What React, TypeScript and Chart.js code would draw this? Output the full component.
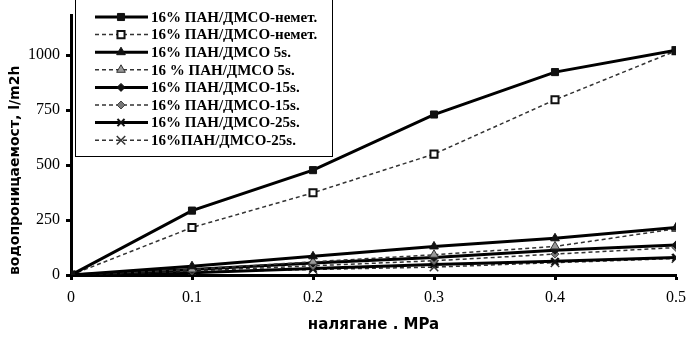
import React, { useEffect, useRef } from "react";
import { Chart, registerables } from "chart.js";
import { drawPoint } from "chart.js/helpers";

Chart.register(...registerables);

const pressures = [0, 0.1, 0.2, 0.3, 0.4, 0.5];
const xTicks = [0, 0.1, 0.2, 0.3, 0.4, 0.5];
const yTicks = [0, 250, 500, 750, 1000];

const labels = [
  "16% ПАН/ДМСО-немет.",
  "16% ПАН/ДМСО-немет.",
  "16% ПАН/ДМСО 5s.",
  "16 % ПАН/ДМСО 5s.",
  "16% ПАН/ДМСО-15s.",
  "16% ПАН/ДМСО-15s.",
  "16% ПАН/ДМСО-25s.",
  "16%ПАН/ДМСО-25s.",
];

const s1 = [0, 293, 477, 730, 923, 1022];
const s2 = [0, 216, 374, 550, 797, 1020];
const s3 = [0, 40, 85, 130, 167, 216];
const s4 = [0, 25, 60, 92, 130, 210];
const s5 = [0, 25, 55, 80, 113, 137];
const s6 = [0, 18, 42, 65, 95, 125];
const s7 = [0, 10, 30, 48, 62, 80];
const s8 = [0, 15, 25, 36, 56, 75];

const seriesValues = [s1, s2, s3, s4, s5, s6, s7, s8];

type Style = {
  dashed: boolean;
  pointStyle: string;
  radius: number;
  fill: string;
  border: string;
  pointBorderWidth: number;
};

const styles: Style[] = [
  { dashed: false, pointStyle: "rect", radius: 5, fill: "#111", border: "#111", pointBorderWidth: 1 },
  { dashed: true, pointStyle: "rect", radius: 5, fill: "#fff", border: "#111", pointBorderWidth: 2 },
  { dashed: false, pointStyle: "triangle", radius: 5, fill: "#111", border: "#111", pointBorderWidth: 1 },
  { dashed: true, pointStyle: "triangle", radius: 5, fill: "#999", border: "#333", pointBorderWidth: 1 },
  { dashed: false, pointStyle: "rectRot", radius: 4, fill: "#111", border: "#111", pointBorderWidth: 1 },
  { dashed: true, pointStyle: "rectRot", radius: 4, fill: "#777", border: "#444", pointBorderWidth: 1 },
  { dashed: false, pointStyle: "crossRot", radius: 5, fill: "#111", border: "#111", pointBorderWidth: 2 },
  { dashed: true, pointStyle: "crossRot", radius: 6, fill: "#333", border: "#333", pointBorderWidth: 1.5 },
];

const legendPlugin = {
  id: "boxLegend",
  afterDraw(chart: any) {
    const ctx = chart.ctx as CanvasRenderingContext2D;
    const left = 75;
    const right = 332;
    const top = -1;
    const bottom = 156;
    ctx.save();
    ctx.fillStyle = "#fff";
    ctx.fillRect(left, top, right - left, bottom - top);
    ctx.strokeStyle = "#000";
    ctx.lineWidth = 1;
    ctx.strokeRect(left + 0.5, top + 0.5, right - left, bottom - top);
    chart.data.datasets.forEach((ds: any, i: number) => {
      const st = styles[i];
      const y = 17 + i * 17.6;
      ctx.save();
      ctx.strokeStyle = ds.borderColor;
      ctx.lineWidth = ds.borderWidth;
      ctx.setLineDash(ds.borderDash || []);
      ctx.beginPath();
      ctx.moveTo(95, y);
      ctx.lineTo(148, y);
      ctx.stroke();
      ctx.restore();
      ctx.save();
      ctx.fillStyle = st.fill;
      ctx.strokeStyle = st.border;
      ctx.lineWidth = st.pointBorderWidth;
      drawPoint(ctx, { pointStyle: st.pointStyle, radius: st.radius, rotation: 0, borderWidth: st.pointBorderWidth } as any, 121, y);
      ctx.restore();
      ctx.fillStyle = "#000";
      ctx.font = "bold 15px 'Liberation Serif'";
      ctx.textBaseline = "middle";
      ctx.textAlign = "left";
      ctx.fillText(ds.label, 151, y + 1);
    });
    ctx.restore();
  },
};

export default function App() {
  const ref = useRef<HTMLCanvasElement | null>(null);
  useEffect(() => {
    document.body.style.margin = "0";
    if (!ref.current) return;
    const datasets = seriesValues.map((vals, i) => {
      const st = styles[i];
      return {
        label: labels[i],
        data: vals.map((v, j) => ({ x: pressures[j], y: v })),
        borderColor: st.dashed ? "#333" : "#000",
        borderWidth: st.dashed ? 1.5 : 3,
        borderDash: st.dashed ? [4, 3] : [],
        pointStyle: st.pointStyle,
        pointRadius: st.radius,
        pointBackgroundColor: st.fill,
        pointBorderColor: st.border,
        pointBorderWidth: st.pointBorderWidth,
        tension: 0,
        fill: false,
      };
    });
    const chart = new Chart(ref.current, {
      type: "line",
      data: { datasets },
      plugins: [legendPlugin],
      options: {
        animation: false,
        responsive: false,
        devicePixelRatio: 1,
        layout: { padding: { top: 12, right: 0, left: 0, bottom: 0 } },
        plugins: { legend: { display: false }, tooltip: { enabled: false } },
        scales: {
          x: {
            type: "linear",
            min: 0,
            max: 0.5,
            afterBuildTicks: (s: any) => {
              s.ticks = xTicks.map((v) => ({ value: v }));
            },
            afterFit: (s: any) => {
              s.height = 62;
              s.paddingRight = 10;
              s.paddingLeft = 0;
            },
            ticks: {
              color: "#000",
              font: { family: "'Liberation Serif'", size: 16 },
              padding: 8,
              callback: (v: any) => String(v),
            },
            grid: { drawOnChartArea: false, drawTicks: true, tickLength: 5, tickWidth: 3, tickColor: "#000" },
            border: { display: true, width: 3, color: "#000" },
            title: {
              display: true,
              text: "налягане . MPa",
              color: "#000",
              font: { family: "'DejaVu Sans'", size: 15, weight: "bold" },
              padding: { top: 0, bottom: 3 },
            },
          },
          y: {
            type: "linear",
            min: 0,
            max: 1180,
            afterBuildTicks: (s: any) => {
              s.ticks = yTicks.map((v) => ({ value: v }));
            },
            afterFit: (s: any) => {
              s.width = 71;
            },
            ticks: {
              color: "#000",
              font: { family: "'Liberation Serif'", size: 16 },
              padding: 6,
              callback: (v: any) => String(v),
            },
            grid: { drawOnChartArea: false, drawTicks: true, tickLength: 5, tickWidth: 3, tickColor: "#000" },
            border: { display: true, width: 3, color: "#000" },
            title: {
              display: true,
              text: "водопроницаемост, l/m2h",
              align: "start",
              color: "#000",
              font: { family: "'DejaVu Sans'", size: 14, weight: "bold" },
              padding: { top: 7, bottom: 0 },
            },
          },
        },
      } as any,
    });
    return () => chart.destroy();
  }, []);
  return (
    <div style={{ position: "fixed", left: 0, top: 0, width: 686, height: 337, background: "#fff" }}>
      <canvas ref={ref} width={686} height={337} />
    </div>
  );
}
